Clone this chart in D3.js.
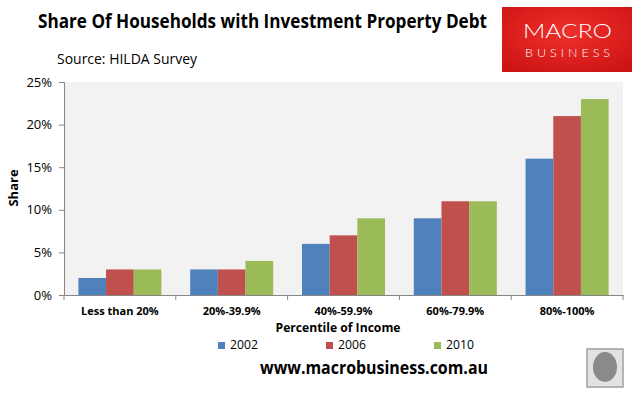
<!DOCTYPE html>
<html>
<head>
<script src="https://cdnjs.cloudflare.com/ajax/libs/d3/7.8.5/d3.min.js"></script>
<style>
  body { margin: 0; background: #fff; font-family: "Open Sans", "Noto Sans", sans-serif; }
  svg text { fill: #000; }
</style>
</head>
<body>
<svg id="chart" width="642" height="399"></svg>
<script>
const categories = ["Less than 20%", "20%-39.9%", "40%-59.9%", "60%-79.9%", "80%-100%"];
const years = ["2002", "2006", "2010"];
const v2002 = [2, 3, 6, 9, 16];
const v2006 = [3, 3, 7, 11, 21];
const v2010 = [3, 4, 9, 11, 23];
const yTicks = [0, 5, 10, 15, 20, 25];
const colors = ["#4f81bd", "#c0504d", "#9bbb59"];

const series = [v2002, v2006, v2010];
const rows = categories.map((c, i) => ({ cat: c, vals: series.map(s => s[i]) }));

const svg = d3.select("#chart");
const plotL = 64, plotR = 623, plotT = 82, plotB = 295;

const x = d3.scaleBand().domain(categories).range([plotL, plotR]).paddingInner(0).paddingOuter(0);
const x1 = d3.scaleBand().domain(years).range([0, x.bandwidth()]).paddingOuter(0.52).paddingInner(0);
const y = d3.scaleLinear().domain([0, 25]).range([plotB, plotT]);

// plot background
svg.append("rect")
  .attr("x", plotL).attr("y", plotT)
  .attr("width", plotR - plotL).attr("height", plotB - plotT)
  .attr("fill", "#f2f2f2");

// bars
const g = svg.append("g");
rows.forEach(r => {
  g.selectAll(null)
    .data(r.vals)
    .join("rect")
    .attr("x", (d, j) => x(r.cat) + x1(years[j]))
    .attr("y", d => y(d))
    .attr("width", x1.bandwidth())
    .attr("height", d => plotB - y(d))
    .attr("fill", (d, j) => colors[j]);
});

// y axis
const yAxis = svg.append("g")
  .attr("transform", `translate(${plotL},0)`)
  .call(d3.axisLeft(y).tickValues(yTicks).tickSize(5).tickPadding(7).tickFormat(d => d + "%"));
yAxis.selectAll("path, line").attr("stroke", "#868686");
yAxis.selectAll("text").style("font-size", "13px").style("font-family", "Open Sans, sans-serif");

// x axis
const xAxis = svg.append("g")
  .attr("transform", `translate(0,${plotB})`)
  .call(d3.axisBottom(x).tickSize(0).tickPadding(12));
xAxis.select("path").attr("stroke", "#868686");
xAxis.selectAll("text").style("font-size", "11px").style("font-weight", "bold").style("font-family", "Open Sans, sans-serif");
const xb = [plotL].concat(categories.map(c => x(c) + x.bandwidth()));
svg.append("g").selectAll("line")
  .data(xb)
  .join("line")
  .attr("x1", d => d).attr("x2", d => d)
  .attr("y1", plotB).attr("y2", plotB + 5)
  .attr("stroke", "#868686");

// titles
svg.append("text").attr("x", 38).attr("y", 28)
  .style("font-size", "17.5px").style("font-weight", "bold")
  .attr("textLength", 449).attr("lengthAdjust", "spacingAndGlyphs")
  .attr("transform", "translate(38,28) scale(1,1.12) translate(-38,-28)")
  .text("Share Of Households with Investment Property Debt");
svg.append("text").attr("x", 57).attr("y", 64)
  .style("font-size", "14.5px")
  .attr("textLength", 140).attr("lengthAdjust", "spacingAndGlyphs")
  .text("Source: HILDA Survey");

svg.append("text")
  .attr("transform", "translate(18,188) rotate(-90)")
  .attr("text-anchor", "middle")
  .style("font-size", "13px").style("font-weight", "bold")
  .text("Share");

svg.append("text").attr("x", 338).attr("y", 332)
  .attr("text-anchor", "middle")
  .style("font-size", "13px").style("font-weight", "bold")
  .attr("textLength", 125).attr("lengthAdjust", "spacingAndGlyphs")
  .text("Percentile of Income");

// legend
const legX = [218, 326, 434];
years.forEach((yr, j) => {
  svg.append("rect").attr("x", legX[j]).attr("y", 342).attr("width", 7).attr("height", 7).attr("fill", colors[j]);
  svg.append("text").attr("x", legX[j] + 12).attr("y", 349)
    .style("font-size", "13.5px")
    .attr("textLength", 28).attr("lengthAdjust", "spacingAndGlyphs")
    .text(yr);
});

svg.append("text").attr("x", 374).attr("y", 374)
  .attr("text-anchor", "middle")
  .style("font-size", "18px").style("font-weight", "bold")
  .attr("textLength", 228).attr("lengthAdjust", "spacingAndGlyphs")
  .text("www.macrobusiness.com.au");

// logo
const grad = svg.append("defs").append("radialGradient").attr("id", "lg").attr("cx", "50%").attr("cy", "40%").attr("r", "70%");
grad.append("stop").attr("offset", "0%").attr("stop-color", "#f0302c");
grad.append("stop").attr("offset", "100%").attr("stop-color", "#cc1414");
svg.append("rect").attr("x", 502).attr("y", 7).attr("width", 130).attr("height", 65).attr("fill", "url(#lg)");
svg.append("text").attr("x", 523).attr("y", 38)
  .style("font-size", "20px").style("fill", "#fff").style("font-family", "Lato, sans-serif").style("font-weight", 300)
  .attr("textLength", 89).attr("lengthAdjust", "spacingAndGlyphs")
  .text("MACRO");
svg.append("text").attr("x", 525).attr("y", 57)
  .style("font-size", "12.5px").style("fill", "#fff").style("font-family", "Lato, sans-serif").style("font-weight", 300)
  .attr("textLength", 85).attr("lengthAdjust", "spacing")
  .text("BUSINESS");

// wolf badge
svg.append("rect").attr("x", 587).attr("y", 349).attr("width", 36).attr("height", 38)
  .attr("fill", "#e2e2e2").attr("stroke", "#a0a0a0").attr("stroke-width", 1.5);
svg.append("ellipse").attr("cx", 605).attr("cy", 367).attr("rx", 12).attr("ry", 15).attr("fill", "#8a8a8a");
</script>
</body>
</html>
